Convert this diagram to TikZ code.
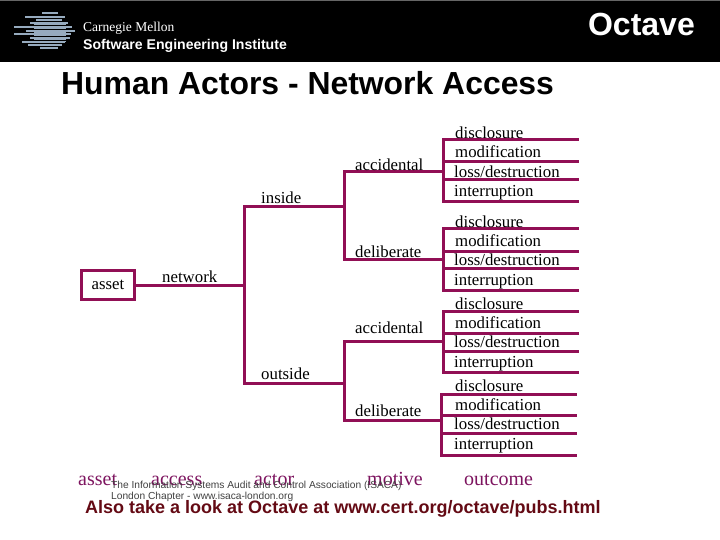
\documentclass[tikz,border=0pt]{standalone}
\usepackage{fontspec}
\setmainfont{Liberation Serif}
\setsansfont{Liberation Sans}
\usetikzlibrary{positioning, calc}
\definecolor{treeline}{RGB}{145,15,85}
\definecolor{footcolor}{RGB}{125,20,95}
\definecolor{darkred}{RGB}{100,10,20}
\definecolor{logoblue}{RGB}{150,170,190}

\begin{document}
\begin{tikzpicture}[
      x=1pt, y=-1pt,
      conn/.style={draw=treeline, line width=3pt, line cap=rect},
      lab/.style={font=\fontsize{16.8}{17}\selectfont, inner sep=0pt, anchor=base west},
      foot/.style={font=\fontsize{20}{20}\selectfont, color=footcolor, inner sep=0pt, anchor=base west},
      small/.style={font=\sffamily\fontsize{10.2}{11}\selectfont, color=black!75, inner sep=0pt, anchor=base west}
  ]
    \useasboundingbox (0,0) rectangle (720,540);
    \fill[black] (0,0) rectangle (720,62);
    \fill[black!60] (0,0) rectangle (720,1);

    % Logo
    \foreach \ya/\xa/\xb in {13/42/58, 17/25/65, 20/36/62, 23/30/68, 27/14/72, 31/26/75, 34/14/71, 38/30/70, 42/22/65, 45/28/62, 48/40/58}
      \fill[logoblue] (\xa,\ya-1.3) rectangle (\xb,\ya+1.3);
    \fill[logoblue] (34,23) rectangle (66,42);
    \foreach \ya in {25.5,29,36,40}
      \fill[black] (20,\ya-0.4) rectangle (70,\ya+0.4);
    \node[font=\fontsize{13.5}{13}\selectfont, color=white, inner sep=0pt, anchor=base west] (cmu) at (83,32) {Carnegie Mellon};
    \node[font=\sffamily\bfseries\fontsize{14.1}{14}\selectfont, color=white, inner sep=0pt, anchor=base west] (sei) at (83,49.5) {Software Engineering Institute};
    \node[font=\sffamily\bfseries\fontsize{32}{32}\selectfont, color=white, inner sep=0pt, anchor=base east] (octave) at (695,36) {Octave};
    \node[font=\sffamily\bfseries\fontsize{31.9}{32}\selectfont, inner sep=0pt, anchor=base west] (title) at (61,95) {Human Actors - Network Access};

    % Tree
    \node[draw=treeline, line width=2.6pt, minimum width=53pt, minimum height=29pt, inner sep=0pt, font=\fontsize{16.8}{17}\selectfont] (asset) at (108,285) {asset\hspace{5pt}};
    \coordinate (split) at (244,285);
    \coordinate (inside) at (244,207);
    \coordinate (outside) at (244,383);
    \coordinate (insideend) at (344,207);
    \coordinate (outsideend) at (344,383);
    \draw[conn] (asset) -- (split);
    \draw[conn] (inside) -- (outside);
    \draw[conn] (inside) -- (insideend);
    \draw[conn] (outside) -- (outsideend);
    \node[lab] (network) at (162,282) {network};
    \node[lab] (insidelab) at (261,204) {inside};
    \node[lab] (outsidelab) at (261,379) {outside};

    % One branch per line
    \foreach \name/\parent/\ybr/\xend/\xleaf/\txt/\ytxt/\ya/\yb/\yc/\yd/\yo in {
        a/insideend/172/443/577/accidental/171/140/162/180/202/138.5,
        b/insideend/259/443/577/deliberate/257/229/251/268/290/227,
        c/outsideend/341/443/577/accidental/333/311/333/351/372/309,
        d/outsideend/420/441/575/deliberate/416/394/415/433/455/391} {
      \coordinate (\name s) at (344,\ybr);
      \coordinate (\name e) at (\xend,\ybr);
      \draw[conn] (\parent) -- (\name s);
      \draw[conn] (\name s) -- (\name e);
      \node[lab] (\name lab) at (355,\ytxt) {\txt};
      \coordinate (\name top) at (\xend,\ya);
      \coordinate (\name bot) at (\xend,\yd);
      \draw[conn] (\name top) -- (\name bot);
      \foreach \yy in {\ya,\yb,\yc,\yd} {
        \coordinate (\name b\yy) at (\xend,\yy);
        \coordinate (\name l\yy) at (\xleaf,\yy);
        \draw[conn] (\name b\yy) -- (\name l\yy);
      }
      \node[lab] (\name 1) at (455,\yo) {disclosure};
      \node[lab] (\name 2) at (455,\yo+19.3) {modification};
      \node[lab] (\name 3) at (454,\yo+38.6) {loss/destruction};
      \node[lab] (\name 4) at (454,\yo+58) {interruption};
    }

    % Footer
    \node[foot] (fasset) at (78,485) {asset};
    \node[foot] (faccess) at (151,485) {access};
    \node[foot] (factor) at (254,485) {actor};
    \node[foot] (fmotive) at (367,485) {motive};
    \node[foot] (foutcome) at (464,485) {outcome};
    \node[small] (isaca) at (111,488) {The Information Systems Audit and Control Association (ISACA)};
    \node[small] (london) at (111,499) {London Chapter - www.isaca-london.org};
    \node[font=\sffamily\bfseries\fontsize{18}{18}\selectfont, color=darkred, inner sep=0pt, anchor=base west] (also) at (85,513) {Also take a look at Octave at www.cert.org/octave/pubs.html};
\end{tikzpicture}
\end{document}
